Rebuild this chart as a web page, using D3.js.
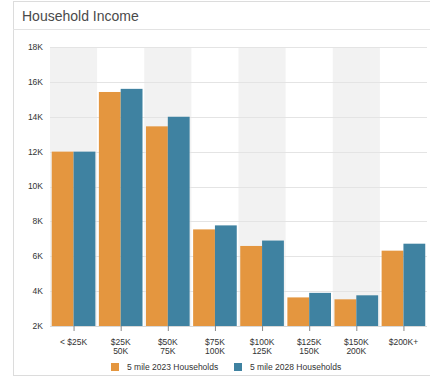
<!DOCTYPE html>
<html>
<head>
<meta charset="utf-8">
<script src="https://cdn.jsdelivr.net/npm/d3@7"></script>
<style>
  body { margin: 0; background: #fff; font-family: "Liberation Sans", Arial, sans-serif; }
  svg text { font-family: "Liberation Sans", Arial, sans-serif; }
</style>
</head>
<body>
<svg id="chart" width="430" height="377"></svg>
<script>
// income brackets (two-line tick labels)
var categories = ["< $25K", "$25K\n50K", "$50K\n75K", "$75K\n100K", "$100K\n125K", "$125K\n150K", "$150K\n200K", "$200K+"];
var seriesNames = ["5 mile 2023 Households", "5 mile 2028 Households"];
var households2023 = [12000, 15420, 13450, 7540, 6590, 3640, 3530, 6320];
var households2028 = [12000, 15600, 14000, 7770, 6900, 3900, 3760, 6720];
var yTicks = [2000, 4000, 6000, 8000, 10000, 12000, 14000, 16000, 18000];
var colors = ["#e4963f", "#3f82a1"];

var svg = d3.select("#chart");
var margin = { top: 47, left: 50, right: 3, bottom: 51 },
    width = 430 - margin.left - margin.right,
    height = 377 - margin.top - margin.bottom;

// panel frame + title
svg.append("rect").attr("x", 13.5).attr("y", 1.5).attr("width", 430).attr("height", 374)
    .attr("fill", "none").attr("stroke", "#dcdcdc");
svg.append("line").attr("x1", 13).attr("x2", 430).attr("y1", 29.5).attr("y2", 29.5).attr("stroke", "#e3e3e3");
svg.append("text").attr("x", 22).attr("y", 21).attr("font-size", "14px").attr("fill", "#4a4a4a")
    .text("Household Income");

var data = categories.map(function(c, i) {
    return { name: c, values: [households2023[i], households2028[i]] };
});

var x = d3.scaleBand().domain(categories).range([0, width]);
var x1 = d3.scaleBand().domain([0, 1]).range([0, x.bandwidth()]).paddingOuter(0.08);
var y = d3.scaleLinear().domain([2000, 18000]).range([height, 0]);

var g = svg.append("g").attr("transform", "translate(" + margin.left + "," + margin.top + ")");

// alternating shaded bands
g.selectAll(".band").data(categories.filter(function(d, i) { return i % 2 === 0; }))
  .enter().append("rect")
    .attr("x", function(d) { return x(d); })
    .attr("y", 0)
    .attr("width", x.bandwidth())
    .attr("height", height)
    .attr("fill", "#f2f2f2");

// grid
g.selectAll(".grid").data(yTicks).enter().append("line")
    .attr("x1", 0).attr("x2", width)
    .attr("y1", function(d) { return Math.round(y(d)) + 0.5; })
    .attr("y2", function(d) { return Math.round(y(d)) + 0.5; })
    .attr("stroke", "#e4e4e4");

// y labels
g.selectAll(".ylab").data(yTicks).enter().append("text")
    .attr("x", -7).attr("y", function(d) { return y(d); })
    .attr("dy", "0.35em").attr("text-anchor", "end")
    .attr("font-size", "8.5px").attr("fill", "#333")
    .text(function(d) { return (d / 1000) + "K"; });

// bars
var groups = g.selectAll(".grp").data(data).enter().append("g")
    .attr("transform", function(d) { return "translate(" + x(d.name) + ",0)"; });
groups.selectAll("rect").data(function(d) { return d.values; }).enter().append("rect")
    .attr("x", function(d, i) { return x1(i); })
    .attr("width", x1.bandwidth())
    .attr("y", function(d) { return y(d); })
    .attr("height", function(d) { return height - y(d); })
    .attr("fill", function(d, i) { return colors[i]; });

// x axis
g.append("line").attr("x1", 0).attr("x2", width).attr("y1", height + 0.5).attr("y2", height + 0.5)
    .attr("stroke", "#d8d8d8");
var ticks = g.selectAll(".xt").data(categories).enter().append("g")
    .attr("transform", function(d) { return "translate(" + (x(d) + x.bandwidth() / 2) + "," + height + ")"; });
ticks.append("line").attr("x1", 0.5).attr("x2", 0.5).attr("y1", 0).attr("y2", 5).attr("stroke", "#888");
ticks.each(function(d) {
    var t = d3.select(this).append("text").attr("text-anchor", "middle")
        .attr("font-size", "8.5px").attr("fill", "#333");
    d.split("\n").forEach(function(line, i) {
        t.append("tspan").attr("x", 0).attr("y", 18.5 + i * 9.5).text(line);
    });
});

// legend
var legend = svg.append("g").attr("transform", "translate(111,363)");
var lx = [0, 123];
seriesNames.forEach(function(name, i) {
    var item = legend.append("g").attr("transform", "translate(" + lx[i] + ",0)");
    item.append("rect").attr("width", 8).attr("height", 8).attr("fill", colors[i]);
    item.append("text").attr("x", 16).attr("y", 4).attr("dy", "0.35em")
        .attr("font-size", "8.5px").attr("fill", "#333").text(name);
});
</script>
</body>
</html>
